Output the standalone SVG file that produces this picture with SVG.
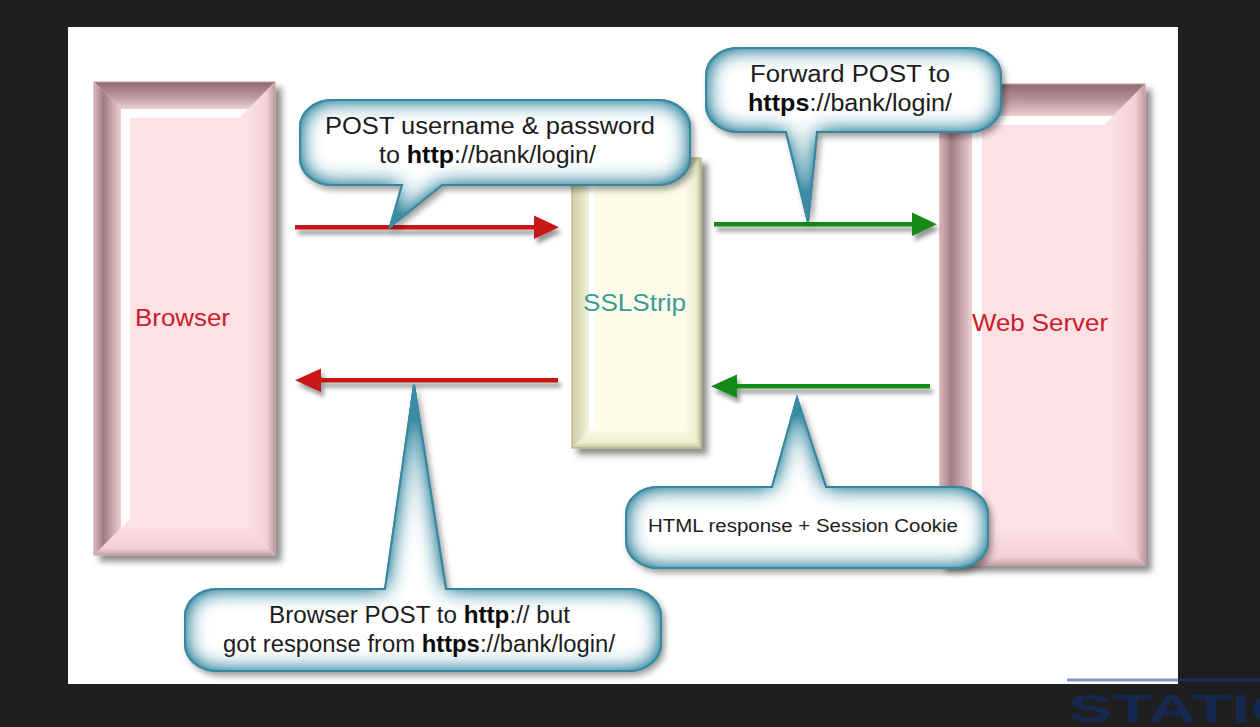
<svg xmlns="http://www.w3.org/2000/svg" width="1260" height="727" viewBox="0 0 1260 727">
<defs>
  <style>
    .lbl{font-family:"Liberation Sans",Arial,sans-serif;}
    .node-lbl{font-size:24px;}
    .red{fill:#c8202a;}
    .teal{fill:#3a9a9c;}
    .ct{font-family:"Liberation Sans",Arial,sans-serif;font-size:23px;fill:#1c1c1c;}
    .b{font-weight:bold;fill:#0a0a0a;}
    .bubble-fill{fill:#ffffff;}
    .bubble-line{fill:none;stroke:#2b7d94;stroke-width:2;}
    .pinkface{fill:#fde1e4;}
    .creamface{fill:#fdfde7;}
    .hl{fill:#ffffff;}
  </style>
  <linearGradient id="pTop" x1="0" y1="0" x2="0" y2="1">
    <stop offset="0" stop-color="#8f6a71"/><stop offset="0.5" stop-color="#b8939a"/><stop offset="1" stop-color="#ebcfd3"/>
  </linearGradient>
  <linearGradient id="pLeft" x1="0" y1="0" x2="1" y2="0">
    <stop offset="0" stop-color="#dcb8bd"/><stop offset="0.35" stop-color="#a27b83"/><stop offset="1" stop-color="#ecd0d4"/>
  </linearGradient>
  <linearGradient id="pRight" x1="0" y1="0" x2="1" y2="0">
    <stop offset="0" stop-color="#fbdfe2"/><stop offset="0.7" stop-color="#f0d0d4"/><stop offset="1" stop-color="#c29aa0"/>
  </linearGradient>
  <linearGradient id="pBottom" x1="0" y1="0" x2="0" y2="1">
    <stop offset="0" stop-color="#fbdde0"/><stop offset="0.75" stop-color="#f0d0d4"/><stop offset="1" stop-color="#c9a2a8"/>
  </linearGradient>
  <linearGradient id="cTop" x1="0" y1="0" x2="0" y2="1">
    <stop offset="0" stop-color="#c2c29a"/><stop offset="1" stop-color="#f2f2da"/>
  </linearGradient>
  <linearGradient id="cLeft" x1="0" y1="0" x2="1" y2="0">
    <stop offset="0" stop-color="#cfcfa8"/><stop offset="0.4" stop-color="#dcdcb8"/><stop offset="1" stop-color="#f4f4de"/>
  </linearGradient>
  <linearGradient id="cRight" x1="0" y1="0" x2="1" y2="0">
    <stop offset="0" stop-color="#fcfce6"/><stop offset="0.7" stop-color="#ececd0"/><stop offset="1" stop-color="#c0c09a"/>
  </linearGradient>
  <linearGradient id="cBottom" x1="0" y1="0" x2="0" y2="1">
    <stop offset="0" stop-color="#fafae2"/><stop offset="0.7" stop-color="#ececd0"/><stop offset="1" stop-color="#c4c49e"/>
  </linearGradient>
  <filter id="boxShadow" x="-10%" y="-5%" width="130%" height="115%">
    <feOffset in="SourceAlpha" dx="6" dy="6" result="o"/>
    <feGaussianBlur in="o" stdDeviation="3" result="b"/>
    <feFlood flood-color="#000" flood-opacity="0.45"/>
    <feComposite in2="b" operator="in" result="s"/>
    <feMerge><feMergeNode in="s"/><feMergeNode in="SourceGraphic"/></feMerge>
  </filter>
  <filter id="arrowShadow" x="-5%" y="-100%" width="110%" height="300%">
    <feOffset in="SourceAlpha" dx="3" dy="5" result="o"/>
    <feGaussianBlur in="o" stdDeviation="2" result="b"/>
    <feFlood flood-color="#000" flood-opacity="0.4"/>
    <feComposite in2="b" operator="in" result="s"/>
    <feMerge><feMergeNode in="s"/><feMergeNode in="SourceGraphic"/></feMerge>
  </filter>
  <filter id="bubbleFx" x="-10%" y="-10%" width="125%" height="130%" color-interpolation-filters="sRGB">
    <feGaussianBlur in="SourceAlpha" stdDeviation="11" result="blur"/>
    <feComposite in="SourceAlpha" in2="blur" operator="out" result="edge"/>
    <feFlood flood-color="#3a8ba3" result="c"/>
    <feComposite in="c" in2="edge" operator="in" result="glow"/>
    <feComponentTransfer in="glow" result="glow2"><feFuncA type="linear" slope="1.7"/></feComponentTransfer>
    <feOffset in="SourceAlpha" dx="3" dy="4" result="so"/>
    <feGaussianBlur in="so" stdDeviation="3" result="sb"/>
    <feFlood flood-color="#000" flood-opacity="0.22"/>
    <feComposite in2="sb" operator="in" result="shadow"/>
    <feMerge><feMergeNode in="shadow"/><feMergeNode in="SourceGraphic"/><feMergeNode in="glow2"/></feMerge>
  </filter>
</defs>

<rect x="0" y="0" width="1260" height="727" fill="#1f1f1f"/>
<rect x="68" y="27" width="1110" height="657" fill="#ffffff"/>

<g id="browser">
  <g filter="url(#boxShadow)">
    <rect x="94" y="82" width="181" height="473" fill="#f3d3d7"/>
    <path d="M94,82 L275,82 L248,109 L121,109 Z" fill="url(#pTop)"/>
    <path d="M94,82 L121,109 L121,528 L94,555 Z" fill="url(#pLeft)"/>
    <path d="M275,82 L275,555 L248,528 L248,109 Z" fill="url(#pRight)"/>
    <path d="M94,555 L275,555 L248,528 L121,528 Z" fill="url(#pBottom)"/>
    <rect x="121" y="109" width="127" height="419" class="pinkface"/>
    <path d="M121,109 L248,109 L239,118 L130,118 L130,519 L121,528 Z" class="hl"/>
    <rect x="94" y="82" width="181" height="473" fill="none" stroke="#c59da3" stroke-width="1"/>
  </g>
  <text class="lbl node-lbl red" x="182.5" y="326" text-anchor="middle" textLength="95" lengthAdjust="spacingAndGlyphs">Browser</text>
</g>

<g id="sslstrip">
  <g filter="url(#boxShadow)">
    <rect x="572" y="158" width="129" height="290" fill="#f2f2da"/>
    <path d="M572,158 L701,158 L684,175 L589,175 Z" fill="url(#cTop)"/>
    <path d="M572,158 L589,175 L589,431 L572,448 Z" fill="url(#cLeft)"/>
    <path d="M701,158 L701,448 L684,431 L684,175 Z" fill="url(#cRight)"/>
    <path d="M572,448 L701,448 L684,431 L589,431 Z" fill="url(#cBottom)"/>
    <rect x="589" y="175" width="95" height="256" class="creamface"/>
    <path d="M589,175 L684,175 L678,181 L595,181 L595,425 L589,431 Z" class="hl"/>
    <rect x="572" y="158" width="129" height="290" fill="none" stroke="#b4b48a" stroke-width="1.2"/>
  </g>
  <text class="lbl node-lbl teal" x="634.5" y="311" text-anchor="middle" textLength="103" lengthAdjust="spacingAndGlyphs">SSLStrip</text>
</g>

<g id="webserver">
  <g filter="url(#boxShadow)">
    <rect x="940" y="84" width="205" height="481" fill="#f3d3d7"/>
    <path d="M940,84 L1145,84 L1113,116 L972,116 Z" fill="url(#pTop)"/>
    <path d="M940,84 L972,116 L972,533 L940,565 Z" fill="url(#pLeft)"/>
    <path d="M1145,84 L1145,565 L1113,533 L1113,116 Z" fill="url(#pRight)"/>
    <path d="M940,565 L1145,565 L1113,533 L972,533 Z" fill="url(#pBottom)"/>
    <rect x="972" y="116" width="141" height="417" class="pinkface"/>
    <path d="M972,116 L1113,116 L1104,125 L982,125 L982,524 L972,533 Z" class="hl"/>
    <rect x="940" y="84" width="205" height="481" fill="none" stroke="#c59da3" stroke-width="1"/>
  </g>
  <text class="lbl node-lbl red" x="1040" y="331" text-anchor="middle" textLength="136" lengthAdjust="spacingAndGlyphs">Web Server</text>
</g>

<g id="connectors">
  <g filter="url(#arrowShadow)" fill="#c81616">
    <rect x="295" y="225" width="245" height="4.5"/>
    <polygon points="534,215.5 559,227.2 534,239"/>
  </g>
  <g filter="url(#arrowShadow)" fill="#c81616">
    <rect x="318" y="378" width="240" height="4.5"/>
    <polygon points="321,368.5 295,380.2 321,392"/>
  </g>
  <g filter="url(#arrowShadow)" fill="#178a17">
    <rect x="714" y="222" width="202" height="4.5"/>
    <polygon points="912,212.5 937,224.2 912,236"/>
  </g>
  <g filter="url(#arrowShadow)" fill="#178a17">
    <rect x="733" y="384" width="197" height="4.5"/>
    <polygon points="737,374.5 711,386.2 737,398"/>
  </g>
</g>

<g id="callout-post">
  <path id="c1" d="M332,100 L658,100 A32,27 0 0 1 690,127 L690,158 A32,27 0 0 1 658,185 L442,185 L390,227 L402,185 L332,185 A32,27 0 0 1 300,158 L300,127 A32,27 0 0 1 332,100 Z" class="bubble-fill" filter="url(#bubbleFx)"/>
  <use href="#c1" class="bubble-line"/>
  <text class="ct" x="490" y="134" text-anchor="middle" textLength="330" lengthAdjust="spacingAndGlyphs">POST username &amp; password</text>
  <text class="ct" x="487.5" y="163" text-anchor="middle" textLength="217" lengthAdjust="spacingAndGlyphs">to <tspan class="b">http</tspan>://bank/login/</text>
</g>

<g id="callout-forward">
  <path id="c2" d="M738,48 L969,48 A32,27 0 0 1 1001,75 L1001,105 A32,27 0 0 1 969,132 L817,132 L808,222 L786,132 L738,132 A32,27 0 0 1 706,105 L706,75 A32,27 0 0 1 738,48 Z" class="bubble-fill" filter="url(#bubbleFx)"/>
  <use href="#c2" class="bubble-line"/>
  <text class="ct" x="850" y="82" text-anchor="middle" textLength="200" lengthAdjust="spacingAndGlyphs">Forward POST to</text>
  <text class="ct" x="850" y="111" text-anchor="middle" textLength="204" lengthAdjust="spacingAndGlyphs"><tspan class="b">https</tspan>://bank/login/</text>
</g>

<g id="callout-response">
  <path id="c3" d="M658,487 L772,487 L797,398 L826,487 L956,487 A32,27 0 0 1 988,514 L988,541 A32,27 0 0 1 956,568 L658,568 A32,27 0 0 1 626,541 L626,514 A32,27 0 0 1 658,487 Z" class="bubble-fill" filter="url(#bubbleFx)"/>
  <use href="#c3" class="bubble-line"/>
  <text class="ct" style="font-size:18px" x="803" y="532" text-anchor="middle" textLength="310" lengthAdjust="spacingAndGlyphs">HTML response + Session Cookie</text>
</g>

<g id="callout-browser">
  <path id="c4" d="M217,589 L385,589 L414,385 L446,589 L629,589 A32,27 0 0 1 661,616 L661,644 A32,27 0 0 1 629,671 L217,671 A32,27 0 0 1 185,644 L185,616 A32,27 0 0 1 217,589 Z" class="bubble-fill" filter="url(#bubbleFx)"/>
  <use href="#c4" class="bubble-line"/>
  <text class="ct" x="419.5" y="623" text-anchor="middle" textLength="301" lengthAdjust="spacingAndGlyphs">Browser POST to <tspan class="b">http</tspan>:// but</text>
  <text class="ct" x="419" y="652" text-anchor="middle" textLength="392" lengthAdjust="spacingAndGlyphs">got response from <tspan class="b">https</tspan>://bank/login/</text>
</g>

<line x1="1067" y1="680" x2="1260" y2="680" stroke="#1b3a8a" stroke-opacity="0.55" stroke-width="3"/>
<text x="1068" y="722" font-family="'Liberation Sans',Arial,sans-serif" font-weight="bold" font-size="38" fill="#172850" textLength="230" lengthAdjust="spacingAndGlyphs">STATIC</text>
</svg>
